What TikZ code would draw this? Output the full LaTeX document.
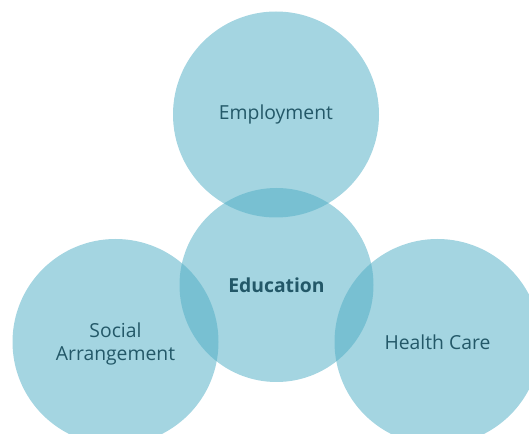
\documentclass[tikz,border=0pt]{standalone}
\usepackage{fontspec}
\setmainfont{Open Sans}
\definecolor{ring}{RGB}{80,174,197}
\definecolor{label}{RGB}{35,88,104}
\begin{document}
\begin{tikzpicture}[x=0.75pt,y=-0.75pt,
  bubble/.style={circle,fill=ring,fill opacity=0.52,inner sep=0pt},
  big/.style={bubble,minimum size=154.5pt},
  mid/.style={bubble,minimum size=145.5pt},
  txt/.style={text=label,font=\fontsize{14.5}{17}\selectfont,align=center}]
\useasboundingbox (0,0) rectangle (529,434);
\begin{scope}
\clip (0,0) rectangle (529,434);
\node[big] (emp) at (276,114.5) {};
\node[mid] (edu) at (276.5,285) {};
\node[big] (soc) at (115.5,342) {};
\node[big] (hea) at (437.5,342) {};
\end{scope}
\node[txt] at (emp.center) {Employment};
\node[txt,font=\fontsize{14.5}{17}\selectfont\bfseries] at (edu.center) {Education};
\node[txt] at ([yshift=-1.5pt]soc.center) {Social\\Arrangement};
\node[txt] at (hea.center) {Health Care};
\end{tikzpicture}
\end{document}
